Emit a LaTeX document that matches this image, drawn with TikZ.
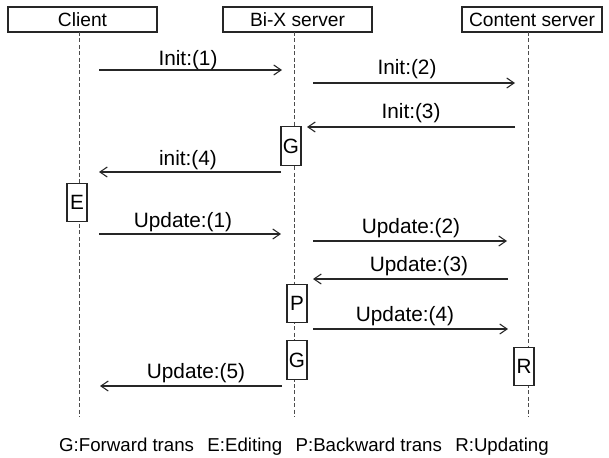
\documentclass[tikz,border=0pt]{standalone}
\usepackage{fontspec}
\setmainfont{Liberation Sans}
\usetikzlibrary{arrows.meta}
\begin{document}
\begin{tikzpicture}[x=0.75pt,y=-0.75pt,
  head/.style={draw=black!85, line width=0.8pt, inner sep=0pt,
    minimum height=18.75pt, font=\fontsize{14.4}{16}\selectfont},
  actbox/.style={draw=black!85, fill=white, line width=0.8pt, inner sep=0pt,
    minimum width=15pt, minimum height=28.9pt, font=\fontsize{15.5}{17}\selectfont},
  msg/.style={draw=black!85, line width=0.8pt,
    -{Straight Barb[length=5.5pt,width=7.5pt,line width=0.8pt]}},
  lbl/.style={anchor=base, inner sep=0pt, font=\fontsize{15.6}{18}\selectfont},
  lifeline/.style={draw=black!70, line width=0.7pt, dash pattern=on 3pt off 1.8pt}]
\useasboundingbox (0,0) rectangle (609,457);

% participants
\node[head, minimum width=111.75pt] (client)  at (82.5,19.5) {Client};
\node[head, minimum width=111.75pt] (bix)     at (297.5,19.5) {Bi-X server};
\node[head, minimum width=105pt]    (content) at (532,19.5) {Content server};

% lifelines
\coordinate (clTop) at (79,32);   \coordinate (clBot) at (79,417);
\coordinate (bxTop) at (294,32);  \coordinate (bxBot) at (294,417);
\coordinate (ctTop) at (528,32);  \coordinate (ctBot) at (528,417);
\draw[lifeline] (clTop) -- (clBot);
\draw[lifeline] (bxTop) -- (bxBot);
\draw[lifeline] (ctTop) -- (ctBot);

% activation boxes
\node[actbox] (g1) at (291,146)   {G};
\node[actbox] (e)  at (77,202.5)  {E};
\node[actbox] (p)  at (297,303.5) {P};
\node[actbox] (g2) at (297,360)   {G};
\node[actbox] (r)  at (524,366.5) {R};

% message end points
\coordinate (m1a) at (99,70);   \coordinate (m1b) at (282,70);
\coordinate (m2a) at (313,83);  \coordinate (m2b) at (515,83);
\coordinate (m3a) at (515,127); \coordinate (m3b) at (307,127);
\coordinate (m4a) at (281,172); \coordinate (m4b) at (99,172);
\coordinate (u1a) at (99,234);  \coordinate (u1b) at (281,234);
\coordinate (u2a) at (313,241); \coordinate (u2b) at (507,241);
\coordinate (u3a) at (508,279); \coordinate (u3b) at (313,279);
\coordinate (u4a) at (313,329); \coordinate (u4b) at (508,329);
\coordinate (u5a) at (282,386); \coordinate (u5b) at (100,386);

% messages
\draw[msg] (m1a) -- (m1b);
\draw[msg] (m2a) -- (m2b);
\draw[msg] (m3a) -- (m3b);
\draw[msg] (m4a) -- (m4b);
\draw[msg] (u1a) -- (u1b);
\draw[msg] (u2a) -- (u2b);
\draw[msg] (u3a) -- (u3b);
\draw[msg] (u4a) -- (u4b);
\draw[msg] (u5a) -- (u5b);

% message labels
\node[lbl] (l1) at (188,65)  {Init:(1)};
\node[lbl] (l2) at (407,74)  {Init:(2)};
\node[lbl] (l3) at (411,118) {Init:(3)};
\node[lbl] (l4) at (188,165) {init:(4)};
\node[lbl] (l5) at (183,227) {Update:(1)};
\node[lbl] (l6) at (411,233) {Update:(2)};
\node[lbl] (l7) at (419,271) {Update:(3)};
\node[lbl] (l8) at (405,321) {Update:(4)};
\node[lbl] (l9) at (196,378) {Update:(5)};

% legend
\node[anchor=base, inner sep=0pt, font=\fontsize{14}{16}\selectfont] (legend) at (304,451)
  {G:Forward trans\hspace{0.72em}E:Editing\hspace{0.72em}P:Backward trans\hspace{0.72em}R:Updating};
\end{tikzpicture}
\end{document}
